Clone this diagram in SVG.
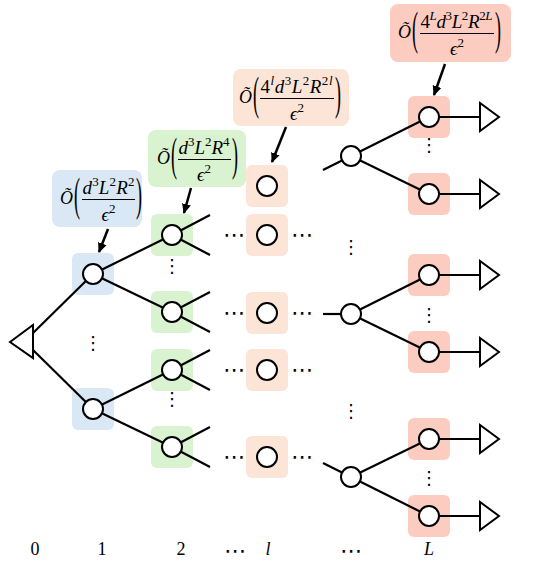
<svg xmlns="http://www.w3.org/2000/svg" width="556" height="569" viewBox="0 0 556 569">
<style>
.b1{fill:#dae8f6}.b2{fill:#d9f2d0}.b3{fill:#fce4d6}.b4{fill:#fdccc0}
.n{fill:#fff;stroke:#000;stroke-width:2}
.e{stroke:#000;stroke-width:2.2;fill:none}
.t{fill:#fff;stroke:#000;stroke-width:2}
.ar{stroke:#000;stroke-width:2.5;fill:none}
.fl{stroke:#000;stroke-width:1}
.m{font-family:"Liberation Serif","DejaVu Serif",serif;font-size:19px;fill:#000}
.o{font-size:18px}
.i{font-style:italic}
.s{font-size:13px}
.d{font-family:"DejaVu Sans",sans-serif;font-size:18px;fill:#000;text-anchor:middle}
.h{font-family:"DejaVu Sans",sans-serif;font-size:22px;fill:#000;text-anchor:middle}
.ax{font-family:"Liberation Serif","DejaVu Serif",serif;font-size:18px;fill:#000;text-anchor:middle}
</style>
<defs>
<marker id="ah" markerUnits="userSpaceOnUse" markerWidth="10" markerHeight="10" refX="9" refY="5" orient="auto">
<path d="M0,0.5 L10,5 L0,9.5 z" fill="#000"/>
</marker>
</defs>

<!-- label boxes -->
<g id="label1">
<rect class="b1" x="52" y="170" width="90" height="57" rx="8"/>
<text class="m o i" x="60" y="204">Õ</text>
<text class="m o" transform="translate(74,210) scale(1,2.6)">(</text>
<text class="m" x="108.5" y="194" text-anchor="middle" textLength="52" lengthAdjust="spacing"><tspan class="i">d</tspan><tspan class="s" dy="-8">3</tspan><tspan class="i" dy="8">L</tspan><tspan class="s" dy="-8">2</tspan><tspan class="i" dy="8">R</tspan><tspan class="s" dy="-8">2</tspan></text>
<line class="fl" x1="82" y1="199.5" x2="135" y2="199.5"/>
<text class="m" x="108.5" y="221" text-anchor="middle"><tspan class="i">ϵ</tspan><tspan class="s" dy="-8">2</tspan></text>
<text class="m o" transform="translate(136,210) scale(1,2.6)">)</text>
</g>
<g id="label2">
<rect class="b2" x="148" y="130" width="98" height="57" rx="8"/>
<text class="m o i" x="157" y="164">Õ</text>
<text class="m o" transform="translate(171,170) scale(1,2.6)">(</text>
<text class="m" x="204" y="154" text-anchor="middle" textLength="51" lengthAdjust="spacing"><tspan class="i">d</tspan><tspan class="s" dy="-8">3</tspan><tspan class="i" dy="8">L</tspan><tspan class="s" dy="-8">2</tspan><tspan class="i" dy="8">R</tspan><tspan class="s" dy="-8">4</tspan></text>
<line class="fl" x1="178" y1="159.5" x2="231" y2="159.5"/>
<text class="m" x="204" y="181" text-anchor="middle"><tspan class="i">ϵ</tspan><tspan class="s" dy="-8">2</tspan></text>
<text class="m o" transform="translate(232,170) scale(1,2.6)">)</text>
</g>
<g id="label3">
<rect class="b3" x="233" y="69" width="116" height="57" rx="8"/>
<text class="m o i" x="239" y="103">Õ</text>
<text class="m o" transform="translate(253,109) scale(1,2.6)">(</text>
<text class="m" x="296.5" y="93" text-anchor="middle" textLength="72" lengthAdjust="spacing"><tspan>4</tspan><tspan class="s i" dy="-8">l</tspan><tspan class="i" dy="8">d</tspan><tspan class="s" dy="-8">3</tspan><tspan class="i" dy="8">L</tspan><tspan class="s" dy="-8">2</tspan><tspan class="i" dy="8">R</tspan><tspan class="s" dy="-8">2</tspan><tspan class="s i">l</tspan></text>
<line class="fl" x1="260" y1="98.5" x2="334" y2="98.5"/>
<text class="m" x="297" y="120" text-anchor="middle"><tspan class="i">ϵ</tspan><tspan class="s" dy="-8">2</tspan></text>
<text class="m o" transform="translate(335,109) scale(1,2.6)">)</text>
</g>
<g id="label4">
<rect class="b4" x="390" y="4" width="121" height="58" rx="8"/>
<text class="m o i" x="398" y="38">Õ</text>
<text class="m o" transform="translate(412,44) scale(1,2.6)">(</text>
<text class="m" x="456.5" y="28" text-anchor="middle" textLength="72" lengthAdjust="spacing"><tspan>4</tspan><tspan class="s i" dy="-8">L</tspan><tspan class="i" dy="8">d</tspan><tspan class="s" dy="-8">3</tspan><tspan class="i" dy="8">L</tspan><tspan class="s" dy="-8">2</tspan><tspan class="i" dy="8">R</tspan><tspan class="s" dy="-8">2</tspan><tspan class="s i">L</tspan></text>
<line class="fl" x1="420" y1="33.5" x2="494" y2="33.5"/>
<text class="m" x="457" y="55" text-anchor="middle"><tspan class="i">ϵ</tspan><tspan class="s" dy="-8">2</tspan></text>
<text class="m o" transform="translate(495,44) scale(1,2.6)">)</text>
</g>

<!-- highlight boxes -->
<g id="boxes">
<rect class="b1" x="72" y="253" width="42" height="42" rx="6"/>
<rect class="b1" x="72" y="388" width="42" height="42" rx="6"/>
<rect class="b2" x="151" y="214" width="42" height="42" rx="6"/>
<rect class="b2" x="151" y="291" width="42" height="42" rx="6"/>
<rect class="b2" x="151" y="349" width="42" height="42" rx="6"/>
<rect class="b2" x="151" y="426" width="42" height="42" rx="6"/>
<rect class="b3" x="246" y="165" width="42" height="42" rx="6"/>
<rect class="b3" x="246" y="214" width="42" height="42" rx="6"/>
<rect class="b3" x="246" y="292" width="42" height="42" rx="6"/>
<rect class="b3" x="246" y="349" width="42" height="42" rx="6"/>
<rect class="b3" x="246" y="436" width="42" height="42" rx="6"/>
<rect class="b4" x="408" y="96" width="42" height="42" rx="6"/>
<rect class="b4" x="408" y="173" width="42" height="42" rx="6"/>
<rect class="b4" x="408" y="254" width="42" height="42" rx="6"/>
<rect class="b4" x="408" y="331" width="42" height="42" rx="6"/>
<rect class="b4" x="408" y="418" width="42" height="42" rx="6"/>
<rect class="b4" x="408" y="495" width="42" height="42" rx="6"/>
</g>

<!-- connectors -->
<g id="connectors">
<line class="e" x1="33" y1="333" x2="93" y2="274"/>
<line class="e" x1="33" y1="350" x2="93" y2="409"/>
<line class="e" x1="93" y1="274" x2="172" y2="235"/>
<line class="e" x1="93" y1="274" x2="172" y2="312"/>
<line class="e" x1="93" y1="409" x2="172" y2="370"/>
<line class="e" x1="93" y1="409" x2="172" y2="447"/>
<line class="e" x1="172" y1="235" x2="210" y2="215"/>
<line class="e" x1="172" y1="235" x2="210" y2="255"/>
<line class="e" x1="172" y1="312" x2="210" y2="292"/>
<line class="e" x1="172" y1="312" x2="210" y2="332"/>
<line class="e" x1="172" y1="370" x2="210" y2="350"/>
<line class="e" x1="172" y1="370" x2="210" y2="390"/>
<line class="e" x1="172" y1="447" x2="210" y2="427"/>
<line class="e" x1="172" y1="447" x2="210" y2="467"/>
<line class="e" x1="323" y1="170" x2="351" y2="156"/>
<line class="e" x1="323" y1="314" x2="351" y2="314"/>
<line class="e" x1="323" y1="463" x2="351" y2="477"/>
<line class="e" x1="351" y1="156" x2="429" y2="117"/>
<line class="e" x1="351" y1="156" x2="429" y2="194"/>
<line class="e" x1="351" y1="314" x2="429" y2="275"/>
<line class="e" x1="351" y1="314" x2="429" y2="352"/>
<line class="e" x1="351" y1="477" x2="429" y2="439"/>
<line class="e" x1="351" y1="477" x2="429" y2="516"/>
<line class="e" x1="429" y1="117" x2="480" y2="117"/>
<line class="e" x1="429" y1="194" x2="480" y2="194"/>
<line class="e" x1="429" y1="275" x2="480" y2="275"/>
<line class="e" x1="429" y1="352" x2="480" y2="352"/>
<line class="e" x1="429" y1="439" x2="480" y2="439"/>
<line class="e" x1="429" y1="516" x2="480" y2="516"/>
<line class="ar" x1="108" y1="229" x2="99" y2="252" marker-end="url(#ah)"/>
<line class="ar" x1="191" y1="188" x2="184" y2="213" marker-end="url(#ah)"/>
<line class="ar" x1="286" y1="127" x2="272" y2="162" marker-end="url(#ah)"/>
<line class="ar" x1="445" y1="64" x2="434" y2="95" marker-end="url(#ah)"/>
</g>

<!-- nodes -->
<g id="root"><polygon class="t" points="10,342 33,325 33,358"/></g>
<g id="n1a"><circle class="n" cx="93" cy="274" r="10"/></g>
<g id="n1b"><circle class="n" cx="93" cy="409" r="10"/></g>
<g id="n2a"><circle class="n" cx="172" cy="235" r="10"/></g>
<g id="n2b"><circle class="n" cx="172" cy="312" r="10"/></g>
<g id="n2c"><circle class="n" cx="172" cy="370" r="10"/></g>
<g id="n2d"><circle class="n" cx="172" cy="447" r="10"/></g>
<g id="nla"><circle class="n" cx="267" cy="186" r="10"/></g>
<g id="nlb"><circle class="n" cx="267" cy="235" r="10"/></g>
<g id="nlc"><circle class="n" cx="267" cy="313" r="10"/></g>
<g id="nld"><circle class="n" cx="267" cy="370" r="10"/></g>
<g id="nle"><circle class="n" cx="267" cy="457" r="10"/></g>
<g id="nma"><circle class="n" cx="351" cy="156" r="10"/></g>
<g id="nmb"><circle class="n" cx="351" cy="314" r="10"/></g>
<g id="nmc"><circle class="n" cx="351" cy="477" r="10"/></g>
<g id="nLa"><circle class="n" cx="429" cy="117" r="10"/><polygon class="t" points="480,103 480,131 499,117"/></g>
<g id="nLb"><circle class="n" cx="429" cy="194" r="10"/><polygon class="t" points="480,180 480,208 499,194"/></g>
<g id="nLc"><circle class="n" cx="429" cy="275" r="10"/><polygon class="t" points="480,261 480,289 499,275"/></g>
<g id="nLd"><circle class="n" cx="429" cy="352" r="10"/><polygon class="t" points="480,338 480,366 499,352"/></g>
<g id="nLe"><circle class="n" cx="429" cy="439" r="10"/><polygon class="t" points="480,425 480,453 499,439"/></g>
<g id="nLf"><circle class="n" cx="429" cy="516" r="10"/><polygon class="t" points="480,502 480,530 499,516"/></g>

<!-- ellipses -->
<g id="dots">
<text class="d" x="93" y="349">⋮</text>
<text class="d" x="172" y="272">⋮</text>
<text class="d" x="172" y="405">⋮</text>
<text class="d" x="351" y="253">⋮</text>
<text class="d" x="351" y="417">⋮</text>
<text class="d" x="429" y="151">⋮</text>
<text class="d" x="429" y="321">⋮</text>
<text class="d" x="429" y="484">⋮</text>
<text class="h" x="234" y="242">⋯</text>
<text class="h" x="302" y="242">⋯</text>
<text class="h" x="234" y="320">⋯</text>
<text class="h" x="302" y="320">⋯</text>
<text class="h" x="234" y="377">⋯</text>
<text class="h" x="302" y="377">⋯</text>
<text class="h" x="234" y="464">⋯</text>
<text class="h" x="302" y="464">⋯</text>
</g>

<!-- axis labels -->
<g id="axis">
<text class="ax" x="35" y="555">0</text>
<text class="ax" x="102" y="555">1</text>
<text class="ax" x="181" y="555">2</text>
<text class="h" x="235" y="558">⋯</text>
<text class="ax i" x="268" y="555">l</text>
<text class="h" x="351" y="558">⋯</text>
<text class="ax i" x="429" y="555">L</text>
</g>
</svg>
